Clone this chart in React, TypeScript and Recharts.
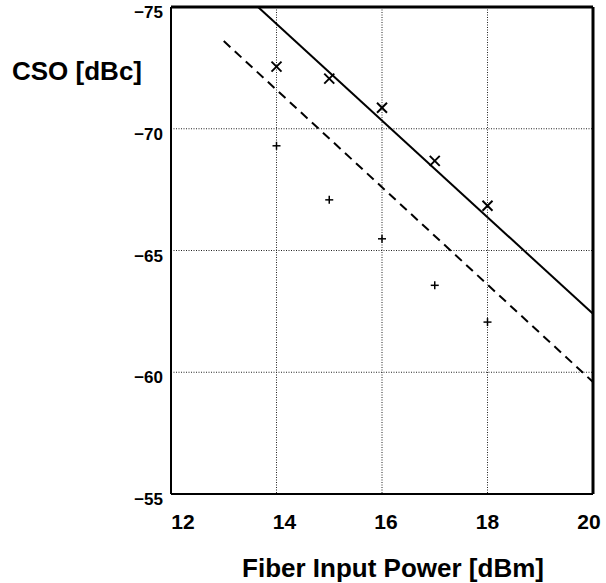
import { ComposedChart, Scatter, XAxis, YAxis, CartesianGrid, ReferenceLine } from 'recharts';

// measured points (x marks and + marks) at each fiber input power
const inputPower = [14, 15, 16, 17, 18];
const csoCross = [-72.55, -72.06, -70.86, -68.68, -66.84];
const csoPlus = [-69.3, -67.08, -65.48, -63.57, -62.06];

// fitted lines (end points)
const solidPower = [13.65, 20];
const solidCso = [-75, -62.4];
const dashedPower = [13.0, 20];
const dashedCso = [-73.6, -59.6];

const xTicks = [12, 14, 16, 18, 20];
const yTicks = [-75, -70, -65, -60, -55];

const FONT = '"Liberation Sans", Arial, sans-serif';

const toPoints = (xs: number[], ys: number[]) => xs.map((x, i) => ({ x, y: ys[i] }));

const crossData = toPoints(inputPower, csoCross);
const plusData = toPoints(inputPower, csoPlus);
const solidData = toPoints(solidPower, solidCso);
const dashedData = toPoints(dashedPower, dashedCso);

const frame = { stroke: '#000', strokeWidth: 2 };

const CrossMark = (props: any) => {
  const { cx, cy } = props;
  const r = 5;
  return (
    <g stroke="#000" strokeWidth={2}>
      <line x1={cx - r} y1={cy - r} x2={cx + r} y2={cy + r} />
      <line x1={cx - r} y1={cy + r} x2={cx + r} y2={cy - r} />
    </g>
  );
};

const PlusMark = (props: any) => {
  const { cx, cy } = props;
  const r = 4;
  return (
    <g stroke="#000" strokeWidth={1.5}>
      <line x1={cx - r} y1={cy} x2={cx + r} y2={cy} />
      <line x1={cx} y1={cy - r} x2={cx} y2={cy + r} />
    </g>
  );
};

const NoMark = () => <g />;

const XTick = (props: any) => {
  const { x, y, payload } = props;
  // the scanned labels sit a little inward of their grid lines
  const dx = 12 - 2 * (payload.value - 12);
  return (
    <text x={x + dx} y={y + 33} textAnchor="middle" fontFamily={FONT} fontWeight="bold" fontSize={21} fill="#000">
      {payload.value}
    </text>
  );
};

const YTick = (props: any) => {
  const { x, y, payload } = props;
  return (
    <text x={x - 6} y={y + 11} textAnchor="end" fontFamily={FONT} fontWeight="bold" fontSize={17} fill="#000">
      {`\u2212${Math.abs(payload.value)}`}
    </text>
  );
};

const XTitle = (props: any) => {
  const { viewBox } = props;
  return (
    <text x={viewBox.x + viewBox.width / 2 + 11} y={viewBox.y + 83} textAnchor="middle" fontFamily={FONT} fontWeight="bold" fontSize={26} fill="#000">
      Fiber Input Power [dBm]
    </text>
  );
};

const YTitle = (props: any) => {
  const { viewBox } = props;
  return (
    <text x={viewBox.x - 34} y={viewBox.y + 73} textAnchor="middle" fontFamily={FONT} fontWeight="bold" fontSize={26} fill="#000">
      CSO [dBc]
    </text>
  );
};

export default function App() {
  return (
    <div style={{ position: 'absolute', left: 0, top: 0, background: '#fff' }}>
      <ComposedChart width={606} height={583} margin={{ top: 7, right: 13, left: 111, bottom: 9 }}>
        <CartesianGrid stroke="#222" strokeDasharray="1 1.5" />
        <XAxis
          type="number"
          dataKey="x"
          domain={[12, 20]}
          ticks={xTicks}
          interval={0}
          height={80}
          axisLine={frame}
          tickLine={false}
          tickSize={0}
          tick={<XTick />}
          label={XTitle}
        />
        <YAxis
          type="number"
          dataKey="y"
          domain={[-75, -55]}
          reversed
          ticks={yTicks}
          interval={0}
          width={60}
          axisLine={frame}
          tickLine={false}
          tickSize={0}
          tick={<YTick />}
          label={YTitle}
        />
        {/* top and right edges of the frame */}
        <ReferenceLine y={-75} stroke="#000" strokeWidth={3} ifOverflow="visible" />
        <ReferenceLine x={20} stroke="#000" strokeWidth={3} ifOverflow="visible" />
        <Scatter data={solidData} line={{ stroke: '#000', strokeWidth: 2 }} shape={NoMark} isAnimationActive={false} />
        <Scatter data={dashedData} line={{ stroke: '#000', strokeWidth: 2, strokeDasharray: '9 6' }} shape={NoMark} isAnimationActive={false} />
        <Scatter data={crossData} shape={CrossMark} isAnimationActive={false} />
        <Scatter data={plusData} shape={PlusMark} isAnimationActive={false} />
      </ComposedChart>
    </div>
  );
}
